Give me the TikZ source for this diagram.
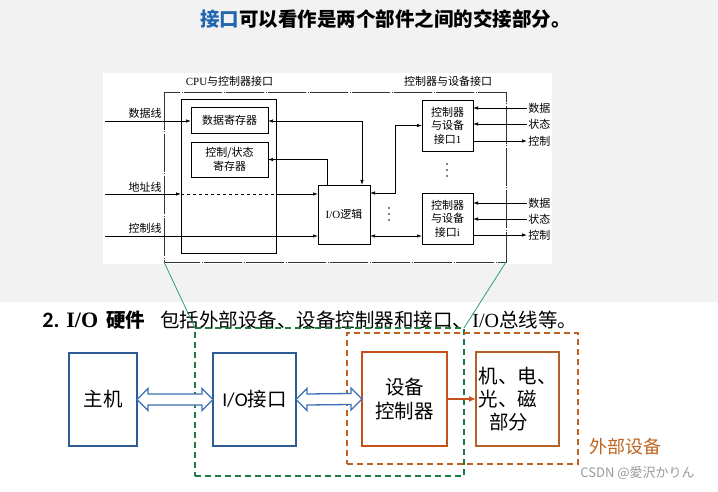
\documentclass[tikz,border=0pt]{standalone}
\usepackage{fontspec}
\setmainfont{Noto Sans CJK SC}
\newfontfamily\serifl{Liberation Serif}
\newfontfamily\carl{Carlito}
\newfontfamily\jp{Noto Sans CJK JP}
\usetikzlibrary{arrows.meta,calc}
\definecolor{bggray}{HTML}{F2F2F2}
\definecolor{tblue}{HTML}{2366B0}
\definecolor{boxblue}{HTML}{2E5C96}
\definecolor{arrblue}{HTML}{3A70B5}
\definecolor{boxorange}{HTML}{C5501A}
\definecolor{boxbrown}{HTML}{B4622A}
\definecolor{dashorange}{HTML}{C0601E}
\definecolor{dashgreen}{HTML}{1E7B40}
\definecolor{linegreen}{HTML}{2EA07A}
\definecolor{extorange}{HTML}{C0641E}
\begin{document}
\begin{tikzpicture}[x=1pt,y=-1pt,
  line width=0.7pt,
  small/.style={font=\fontsize{11}{13.5}\selectfont},
  big/.style={font=\fontsize{19.5}{24}\selectfont},
  box/.style={draw, inner sep=0pt, outer sep=0pt, align=center, small},
  arr/.style={-{Latex[length=5pt,width=3.4pt]}},
  darr/.style={{Latex[length=5pt,width=3.4pt]}-{Latex[length=5pt,width=3.4pt]}},
  outerline/.style={draw=black!80, line width=0.7pt, dash pattern=on 38pt off 1.5pt on 1pt off 1.5pt},
  bluebox/.style={draw=boxblue, line width=1.5pt, fill=white, inner sep=0pt, outer sep=0pt, align=center, big},
  orbox/.style={draw=boxorange, line width=1.5pt, fill=white, inner sep=0pt, outer sep=0pt, align=center, big},
  brbox/.style={draw=boxbrown, line width=1.5pt, fill=white, inner sep=0pt, outer sep=0pt, align=left, big},
  hollow/.style={draw=arrblue, line width=1.3pt, fill=white, line join=miter},
  gdash/.style={draw=dashgreen, line width=1.4pt, dash pattern=on 6pt off 4pt, inner sep=0pt, outer sep=0pt},
  odash/.style={draw=dashorange, line width=1.4pt, dash pattern=on 6pt off 4pt, inner sep=0pt, outer sep=0pt},
  lbl/.style={small, inner sep=1pt}
]
% background
\fill[bggray] (0,0) rectangle (718,302);
\fill[white] (0,302) rectangle (718,492);
\fill[white] (103,73) rectangle (552,264);
\useasboundingbox (0,0) rectangle (718,492);

% title
\node[font=\fontsize{19.5}{22}\selectfont\bfseries, anchor=west, inner sep=0pt] (title) at (200,19)
  {\textcolor{tblue}{接口}可以看作是两个部件之间的交接部分。};

% ---------- top figure ----------
\coordinate (obtl) at (164,92);
\coordinate (obbr) at (506,262);
\draw[outerline] (obtl) rectangle (obbr);

\node[small] (lcpu) at (229.5,81) {{\serifl CPU}与控制器接口};
\node[small] (ldev) at (448,81) {控制器与设备接口};

\node[box, minimum width=95pt, minimum height=154pt] (cpu) at (228.5,176) {};
\node[box, minimum width=77pt, minimum height=26pt] (dreg) at (229.5,120) {数据寄存器};
\node[box, minimum width=77pt, minimum height=35pt] (creg) at (229.5,159.5) {控制/状态\\寄存器};
\node[box, minimum width=52pt, minimum height=59pt] (iol) at (344,214.5) {{\serifl I/O}逻辑};
\node[box, minimum width=51pt, minimum height=51pt] (dev1) at (447.5,125.5) {控制器\\与设备\\接口{\serifl 1}};
\node[box, minimum width=51pt, minimum height=51pt] (devi) at (447.5,218.5) {控制器\\与设备\\接口{\serifl i}};

% left labels and bus lines
\node[lbl] (ldata) at (145,113) {数据线};
\node[lbl] (laddr) at (145,187) {地址线};
\node[lbl] (lctrl) at (145,228) {控制线};
\coordinate (dstart) at (105,121);
\coordinate (astart) at (105,194);
\coordinate (cstart) at (105,236);
\draw[arr] (dstart) -- (dstart -| dreg.west);
\draw[arr] (astart) -- (astart -| cpu.west);
\draw[dash pattern=on 3pt off 3pt] (astart -| cpu.west) -- (astart -| cpu.east);
\draw[arr] (astart -| cpu.east) -- (astart -| iol.west);
\draw[arr] (cstart) -- (cstart -| iol.west);

% internal connections
\draw[darr] ($(dreg.east)+(0,1)$) -| ($(iol.north west)+(44,0)$);
\draw[arr] ($(iol.north west)+(9,0)$) |- (creg.east);
\draw[darr] ($(iol.north east)+(0,8)$) -- ++(25,0) |- (dev1.west);
\draw[darr] ($(iol.south east)+(0,-8)$) -- ($(devi.south west)+(0,-8)$);

% ellipsis dots
\foreach \yy in {208,214,220} \fill (389,\yy) circle (0.85);
\foreach \yy in {164,170,176} \fill (447,\yy) circle (0.85);

% right labels
\node[lbl, anchor=west] (rd1) at (527,108) {数据};
\node[lbl, anchor=west] (rs1) at (527,124) {状态};
\node[lbl, anchor=west] (rc1) at (527,141) {控制};
\node[lbl, anchor=west] (rdi) at (527,203) {数据};
\node[lbl, anchor=west] (rsi) at (527,219) {状态};
\node[lbl, anchor=west] (rci) at (527,235) {控制};
\draw[arr] (rd1.west) -- (rd1.west -| dev1.east);
\draw[arr] (rs1.west) -- (rs1.west -| dev1.east);
\draw[arr] (rc1.west -| dev1.east) -- (rc1.west);
\draw[arr] (rdi.west) -- (rdi.west -| devi.east);
\draw[arr] (rsi.west) -- (rsi.west -| devi.east);
\draw[arr] (rci.west -| devi.east) -- (rci.west);

% ---------- heading line ----------
\node[anchor=west, inner sep=0pt, font=\fontsize{22}{24}\selectfont\carl\bfseries] (h2) at (42,320) {2.};
\node[anchor=west, inner sep=0pt, font=\fontsize{22}{24}\selectfont\serifl\bfseries] (hio) at (66,320) {I/O};
\node[anchor=west, inner sep=0pt, font=\fontsize{19.5}{24}\selectfont\bfseries] (hyj) at (106,320) {硬件};
\node[anchor=west, inner sep=0pt, font=\fontsize{19.5}{24}\selectfont] (hrest) at (160,320)
  {包括外部设备、设备控制器和接口、{\fontsize{20}{24}\selectfont\serifl I/O}总线等。};

% ---------- bottom figure ----------
\node[gdash, minimum width=269pt, minimum height=148pt] (green) at (329.5,402) {};
\node[odash, minimum width=231pt, minimum height=131pt] (orng) at (462.5,398.5) {};

\draw[linegreen, line width=0.8pt] (obtl |- obbr) -- (green.north west);
\draw[linegreen, line width=0.8pt] (obbr) -- (green.north east);

\node[bluebox, minimum width=68pt, minimum height=93pt] (host) at (103,399.5) {主机};
\node[bluebox, minimum width=83pt, minimum height=93pt] (ioif) at (254.5,399.5) {{\carl I/O}接口};
\node[orbox, minimum width=85pt, minimum height=94pt] (ctrl) at (404.5,399) {设备\\控制器};
\node[brbox, minimum width=83pt, minimum height=94pt, font=\fontsize{19.5}{23}\selectfont] (mech) at (517.5,399) {机、电、\\光、磁\\\hspace*{0.55em}部分};

\draw[hollow] (host.east) -- ++(11,-11) -- ++(0,5.5) -- ($(ioif.west)+(-11,-5.5)$) -- ++(0,-5.5) -- (ioif.west)
  -- ++(-11,11) -- ++(0,-5.5) -- ($(host.east)+(11,5.5)$) -- ++(0,5.5) -- cycle;
\draw[hollow] (ioif.east) -- ++(11,-11) -- ++(0,5.5) -- ($(ctrl.west)+(-11,-5.5)$) -- ++(0,-5.5) -- (ctrl.west)
  -- ++(-11,11) -- ++(0,-5.5) -- ($(ioif.east)+(11,5.5)$) -- ++(0,5.5) -- cycle;

\draw[-{Latex[length=7pt,width=6pt]}, draw=boxorange, fill=boxorange, line width=1.3pt] (ctrl.east) -- (mech.west);

\node[font=\fontsize{18}{20}\selectfont, text=extorange, inner sep=0pt] (ext) at (625,447) {外部设备};
\node[font=\fontsize{13}{15}\selectfont, text=black!40, inner sep=0pt] (wm) at (637.5,473) {CSDN @{\jp 愛沢かりん}};
\end{tikzpicture}
\end{document}
